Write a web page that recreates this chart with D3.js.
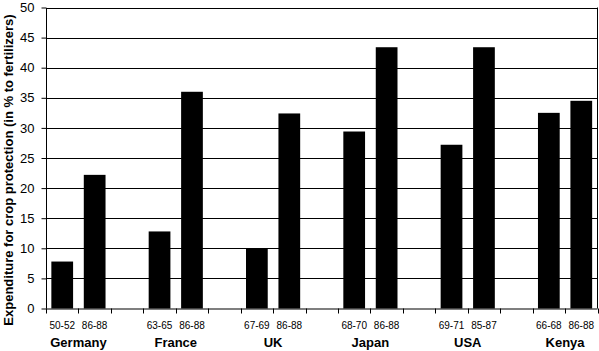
<!DOCTYPE html>
<html>
<head>
<meta charset="utf-8">
<script src="https://cdn.jsdelivr.net/npm/d3@7/dist/d3.min.js"></script>
<style>
  html, body { margin: 0; padding: 0; background: #fff; }
  svg { display: block; }
  text { font-family: "Liberation Sans", Arial, sans-serif; fill: #000; }
</style>
</head>
<body>
<svg id="chart" width="599" height="351"></svg>
<script>
// ---- data ----
const countries = ["Germany", "France", "UK", "Japan", "USA", "Kenya"];
const periods = [
  ["50-52", "86-88"],
  ["63-65", "86-88"],
  ["67-69", "86-88"],
  ["68-70", "86-88"],
  ["69-71", "85-87"],
  ["66-68", "86-88"]
];
const values = [
  [7.8, 22.2],
  [12.8, 36.0],
  [10.0, 32.4],
  [29.4, 43.4],
  [27.2, 43.4],
  [32.5, 34.5]
];
const yTicks = [0, 5, 10, 15, 20, 25, 30, 35, 40, 45, 50];
const yTitle = "Expenditure for crop protection (in % to fertilizers)";

// ---- layout ----
const svg = d3.select("#chart");
const mLeft = 46, mRight = 597.5, mTop = 7.5, mBottom = 308.5;

// slots: two bars per country, then a spacer slot (none after the last)
const slots = [];
countries.forEach((c, i) => {
  periods[i].forEach((p, j) => slots.push({ key: c + "|" + j, country: c, period: p, value: values[i][j] }));
  if (i < countries.length - 1) slots.push({ key: "gap" + i, gap: true });
});

const x = d3.scaleBand().domain(slots.map(s => s.key)).range([mLeft, mRight]).paddingInner(0).paddingOuter(0);
const y = d3.scaleLinear().domain([0, 50]).range([mBottom, mTop]);

// gridlines
svg.append("g").selectAll("line").data(yTicks.filter(t => t > 0)).join("line")
  .attr("x1", mLeft).attr("x2", mRight)
  .attr("y1", d => Math.round(y(d)) + 0.5).attr("y2", d => Math.round(y(d)) + 0.5)
  .attr("stroke", "#000").attr("stroke-width", 1);

// right border
svg.append("line").attr("x1", mRight).attr("x2", mRight).attr("y1", y(50)).attr("y2", y(0))
  .attr("stroke", "#000").attr("stroke-width", 1);

// bars
const bw = x.bandwidth() * 0.67;
svg.append("g").selectAll("rect").data(slots.filter(s => !s.gap)).join("rect")
  .attr("x", d => x(d.key) + (x.bandwidth() - bw) / 2)
  .attr("width", bw)
  .attr("y", d => y(d.value))
  .attr("height", d => y(0) - y(d.value))
  .attr("fill", "#000");

// y axis
const yAxis = d3.axisLeft(y).tickValues(yTicks).tickSize(5).tickPadding(7);
const gy = svg.append("g").attr("transform", `translate(${mLeft + 0.5},0)`).call(yAxis);
gy.select(".domain").attr("stroke", "#000").attr("d", `M0,${Math.round(y(50)) + 0.5}V${y(0)}`);
gy.selectAll(".tick line").attr("stroke", "#000");
gy.selectAll(".tick text").attr("font-size", 13).attr("font-family", "Liberation Sans, Arial, sans-serif").attr("fill", "#000");

// x axis: ticks at slot boundaries
const boundaries = slots.map(s => x(s.key)).concat([mRight]);
svg.append("line").attr("x1", mLeft).attr("x2", mRight).attr("y1", y(0) + 0.5).attr("y2", y(0) + 0.5)
  .attr("stroke", "#000").attr("stroke-width", 1.2);
svg.append("g").selectAll("line").data(boundaries).join("line")
  .attr("x1", d => Math.round(d) + 0.5).attr("x2", d => Math.round(d) + 0.5)
  .attr("y1", y(0)).attr("y2", y(0) + 5)
  .attr("stroke", "#000");

// period labels
svg.append("g").selectAll("text").data(slots.filter(s => !s.gap)).join("text")
  .attr("x", d => x(d.key) + x.bandwidth() / 2)
  .attr("y", 329)
  .attr("text-anchor", "middle")
  .attr("font-size", 10)
  .text(d => d.period);

// country labels
svg.append("g").selectAll("text").data(countries).join("text")
  .attr("x", (c, i) => (x(c + "|0") + x(c + "|1") + x.bandwidth()) / 2)
  .attr("y", 347)
  .attr("text-anchor", "middle")
  .attr("font-size", 13)
  .attr("font-weight", "bold")
  .text(c => c);

// y title
svg.append("text")
  .attr("transform", `translate(12.5,170) rotate(-90)`)
  .attr("text-anchor", "middle")
  .attr("font-size", 13)
  .attr("font-weight", "bold")
  .text(yTitle);
</script>
</body>
</html>
